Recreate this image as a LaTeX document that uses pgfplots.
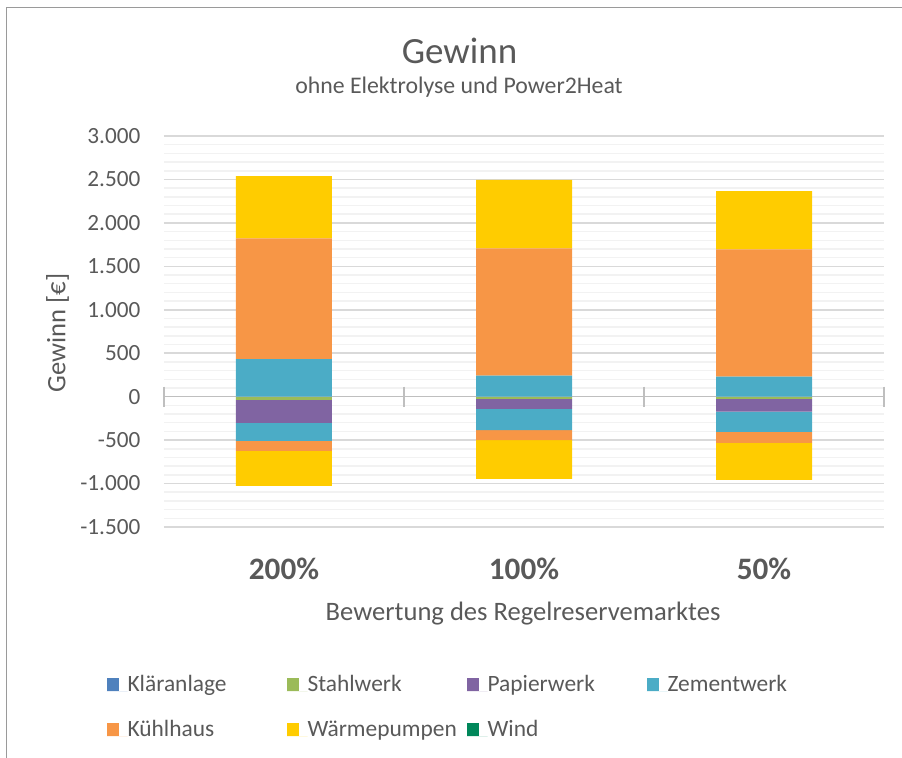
\documentclass[border=0pt]{standalone}
\usepackage{fontspec}
\setmainfont{Carlito}
\usepackage{pgfplots}
\usepackage{pgfplotstable}
\pgfplotsset{compat=1.18}

\definecolor{txt}{HTML}{595959}
\definecolor{rahmen}{HTML}{9A9A9A}
\definecolor{gridmaj}{HTML}{D9D9D9}
\definecolor{gridmin}{HTML}{F2F2F2}
\definecolor{nulllinie}{HTML}{BFBFBF}
\definecolor{cKlaer}{HTML}{4F81BD}
\definecolor{cStahl}{HTML}{9BBB59}
\definecolor{cPapier}{HTML}{8064A2}
\definecolor{cZement}{HTML}{4BACC6}
\definecolor{cKuehl}{HTML}{F79646}
\definecolor{cWaerme}{HTML}{FFCC00}
\definecolor{cWind}{HTML}{00875A}

% Gewinnanteile oberhalb der Nulllinie
\pgfplotstableread{
x klaer stahl papier zement kuehl waerme wind
0 0 0 0 433 1389 716 0
1 0 0 0 241 1466 789 0
2 0 0 0 230 1465 670 0
}\positiv

% Anteile unterhalb der Nulllinie
\pgfplotstableread{
x klaer stahl papier zement kuehl waerme wind
0 0 -38 -264 -207 -116 -402 0
1 0 -25 -116 -243 -117 -446 0
2 0 -25 -147 -234 -126 -426 0
}\negativ

\pgfplotsset{
  gewinnachse/.style={
    scale only axis, width=360bp, height=195.5bp,
    at={(0bp,0bp)}, anchor=south west,
    xmin=-0.5, xmax=2.5, ymin=-1500, ymax=3000,
    ybar stacked, bar width=0.4,
  },
}

\begin{document}
\begin{tikzpicture}
\path[use as bounding box] (-82bp,-115.5bp) rectangle (369bp,263.5bp);
\draw[rahmen, line width=0.75bp] (-78.65bp,-115.5bp) -- (-78.65bp,259.85bp) -- (369bp,259.85bp);

% Titel und Achsentitel
\node[anchor=base, inner sep=0pt, text=txt, font=\fontsize{18.5bp}{22bp}\selectfont] at (147.75bp,231.85bp) {Gewinn};
\node[anchor=base, inner sep=0pt, text=txt, font=\fontsize{11.9bp}{14bp}\selectfont] at (147.5bp,216.85bp) {ohne Elektrolyse und Power2Heat};
\node[rotate=90, anchor=center, inner sep=0pt, text=txt, font=\fontsize{13.3bp}{16bp}\selectfont] at (-53.25bp,97bp) {Gewinn [€]};
\node[anchor=base, inner sep=0pt, text=txt, font=\fontsize{13.3bp}{16bp}\selectfont] at (179.5bp,-46.85bp) {Bewertung des Regelreservemarktes};

% Raster, Achsenbeschriftung und negative Anteile
\begin{axis}[gewinnachse,
  axis line style={draw=none}, tick style={draw=none},
  ytick={-1500,-1000,...,3000},
  yticklabels={-1.500,-1.000,-500,0,500,1.000,1.500,2.000,2.500,3.000},
  minor y tick num=4, ymajorgrids, yminorgrids,
  major grid style={draw=gridmaj, line width=0.75bp},
  minor grid style={draw=gridmin, line width=0.75bp},
  xtick={0,1,2}, xticklabels={200\%,100\%,50\%},
  xticklabel style={font=\bfseries\fontsize{15.6bp}{18bp}\selectfont, text=txt,
    anchor=base, inner sep=0pt, yshift=-26bp},
  yticklabel style={font=\fontsize{11.6bp}{14bp}\selectfont, text=txt,
    anchor=east, inner sep=0pt, xshift=-11.65bp},
]
\addplot[fill=cKlaer, draw=none] table[x=x, y=klaer] {\negativ};
\addplot[fill=cStahl, draw=none] table[x=x, y=stahl] {\negativ};
\addplot[fill=cPapier, draw=none] table[x=x, y=papier] {\negativ};
\addplot[fill=cZement, draw=none] table[x=x, y=zement] {\negativ};
\addplot[fill=cKuehl, draw=none] table[x=x, y=kuehl] {\negativ};
\addplot[fill=cWaerme, draw=none] table[x=x, y=waerme] {\negativ};
\addplot[fill=cWind, draw=none] table[x=x, y=wind] {\negativ};
\end{axis}

% positive Anteile, Nulllinie und Legende
\begin{axis}[gewinnachse, hide axis, clip=false,
  legend image code/.code={
    \fill[#1] (0bp,0.2bp) rectangle (6bp,6.7bp);
    \path (0bp,0bp) -- (10.3bp,0bp);
  },
  legend columns=4,
  legend cell align=left,
  legend style={at={(axis description cs:-0.0792,-0.371)}, anchor=north west,
    draw=none, fill=none, inner sep=0pt, outer sep=0pt,
    column sep=0pt, row sep=11.15bp,
    /tikz/every even column/.style={column sep=0pt},
    /tikz/every odd column/.style={column sep=0pt},
    font=\fontsize{11.7bp}{14bp}\selectfont, text=txt,
    nodes={inner sep=0pt, anchor=base west}},
]
\addplot[fill=cKlaer, draw=none] table[x=x, y=klaer] {\positiv};
\addlegendentry{\makebox[79.7bp][l]{\strut Kläranlage}}
\addplot[fill=cStahl, draw=none] table[x=x, y=stahl] {\positiv};
\addlegendentry{\makebox[79.7bp][l]{\strut Stahlwerk}}
\addplot[fill=cPapier, draw=none] table[x=x, y=papier] {\positiv};
\addlegendentry{\makebox[79.7bp][l]{\strut Papierwerk}}
\addplot[fill=cZement, draw=none] table[x=x, y=zement] {\positiv};
\addlegendentry{\makebox[79.7bp][l]{\strut Zementwerk}}
\addplot[fill=cKuehl, draw=none] table[x=x, y=kuehl] {\positiv};
\addlegendentry{\makebox[79.7bp][l]{\strut Kühlhaus}}
\addplot[fill=cWaerme, draw=none] table[x=x, y=waerme] {\positiv};
\addlegendentry{\makebox[79.7bp][l]{\strut Wärmepumpen}}
\addplot[fill=cWind, draw=none] table[x=x, y=wind] {\positiv};
\addlegendentry{\makebox[79.7bp][l]{\strut Wind}}
\draw[nulllinie, line width=0.75bp] (axis cs:-0.5,0) -- (axis cs:2.5,0);
\pgfplotsinvokeforeach{-0.5,0.5,1.5,2.5}{
  \draw[nulllinie, line width=0.75bp] ([yshift=5bp]axis cs:#1,0) -- ([yshift=-5bp]axis cs:#1,0);
}
\end{axis}
\end{tikzpicture}
\end{document}
